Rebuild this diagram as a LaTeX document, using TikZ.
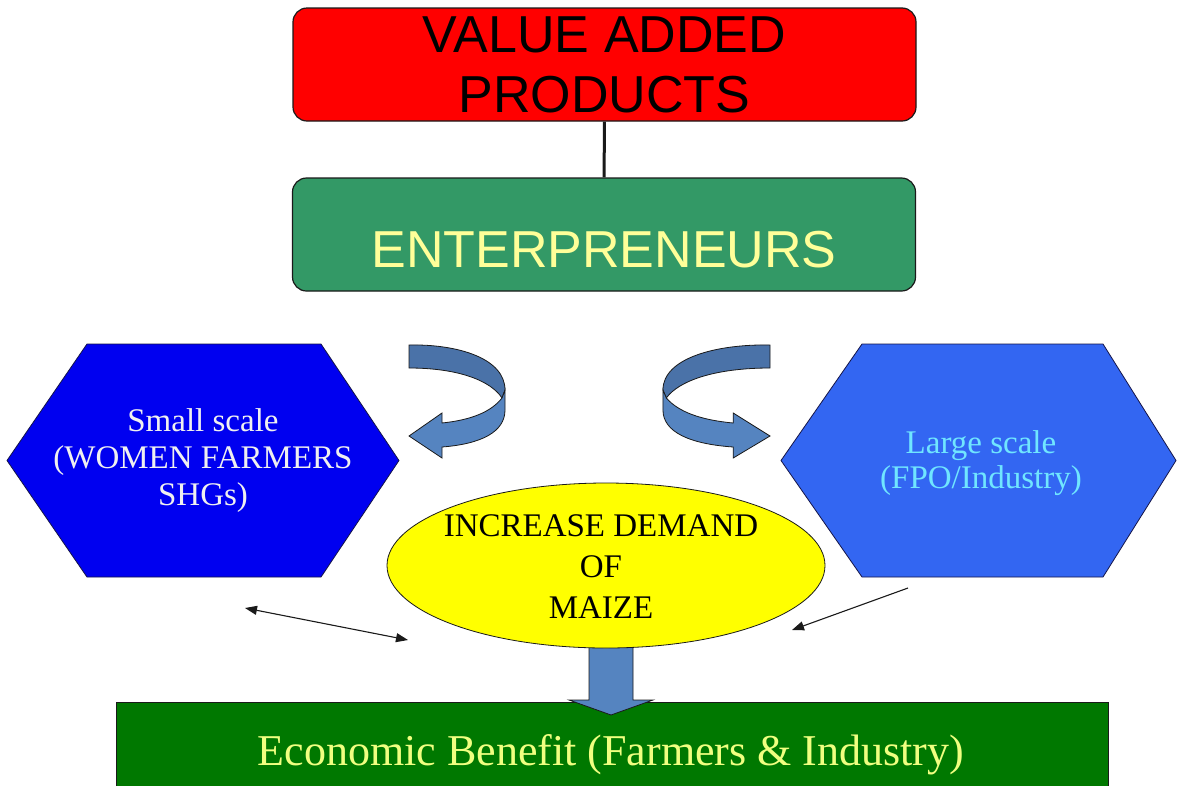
\documentclass[tikz,border=0pt]{standalone}
\usepackage{fontspec}
\setmainfont{Liberation Serif}
\newfontfamily\arialfont{Liberation Sans}
\usetikzlibrary{shapes.geometric,arrows.meta}

\definecolor{vapred}{HTML}{FF0000}
\definecolor{entgreen}{HTML}{339966}
\definecolor{paleyellow}{HTML}{FFFF99}
\definecolor{smallblue}{HTML}{0000F0}
\definecolor{largeblue}{HTML}{3366F2}
\definecolor{largetext}{HTML}{70E6FF}
\definecolor{demandyellow}{HTML}{FFFF00}
\definecolor{benefitgreen}{HTML}{007800}
\definecolor{benefittext}{HTML}{F0FF80}
\definecolor{bandback}{HTML}{4A72A8}
\definecolor{bandfront}{HTML}{5584C0}
\definecolor{edge}{HTML}{1A1A1A}

\begin{document}
\begin{tikzpicture}[x=1pt,y=-1pt,
  topbox/.style={draw=edge, line width=1.2pt, rounded corners=14pt,
    minimum width=623pt, minimum height=113pt, inner sep=0pt},
  hexagon/.style={draw=edge!80!blue, line width=0.8pt},
  serifbig/.style={align=center, inner sep=0pt},
  band/.style={draw=edge, line width=0.8pt},
  smallarrow/.style={draw=edge, line width=1.1pt,
    {Triangle[length=12pt,width=9pt]}-{Triangle[length=12pt,width=9pt]}},
  onearrow/.style={draw=edge, line width=1.1pt, -{Triangle[length=12pt,width=9pt]}}
]
\useasboundingbox (0,0) rectangle (1177,785);
\fill[white] (0,0) rectangle (1177,785);

% top two boxes and their link
\node[topbox, fill=vapred, text=black, align=center,
      font=\arialfont\fontsize{52}{60}\selectfont] (vap) at (604.5,64.5)
      {VALUE ADDED\\PRODUCTS};
\node[topbox, fill=entgreen] (ent) at (604,234.5) {};
\node[text=paleyellow, inner sep=0pt, font=\arialfont\fontsize{52}{60}\selectfont]
      (entlabel) at (604,250) {ENTERPRENEURS};
\draw[line width=3pt, edge] (vap) -- (ent);

% small scale hexagon
\filldraw[hexagon, fill=smallblue] (7,460.5) -- (87,344) -- (321,344) -- (399,460.5)
   -- (321,577) -- (87,577) -- cycle;
\node[serifbig, font=\fontsize{33}{37}\selectfont, text=white!94!black] (small) at (203,461)
   {Small scale\\(WOMEN FARMERS\\SHGs)};

% large scale hexagon
\filldraw[hexagon, fill=largeblue] (781,460.5) -- (862,344) -- (1103,344) -- (1176,460.5)
   -- (1103,577) -- (862,577) -- cycle;
\node[serifbig, font=\fontsize{33}{35}\selectfont, text=largetext] (large) at (981,463)
   {Large scale\\(FPO/Industry)};

% curved ribbon arrows
\begin{scope}[shift={(409,0)}]
  \filldraw[band, fill=bandback] (0,345) .. controls (48,344) and (96,358) .. (96,390)
     -- (93,398) .. controls (82,381) and (50,368) .. (0,368) -- cycle;
  \filldraw[band, fill=bandfront] (93,398) .. controls (82,412) and (62,420) .. (33,423)
     -- (33,413) -- (0,436) -- (33,458) -- (33,447)
     .. controls (72,444) and (96,432) .. (96,410) -- (96,390) -- cycle;
\end{scope}
\begin{scope}[shift={(770,0)}, xscale=-1.115]
  \filldraw[band, fill=bandback] (0,345) .. controls (48,344) and (96,358) .. (96,390)
     -- (93,398) .. controls (82,381) and (50,368) .. (0,368) -- cycle;
  \filldraw[band, fill=bandfront] (93,398) .. controls (82,412) and (62,420) .. (33,423)
     -- (33,413) -- (0,436) -- (33,458) -- (33,447)
     .. controls (72,444) and (96,432) .. (96,410) -- (96,390) -- cycle;
\end{scope}

% benefit box
\node[draw=edge, line width=1pt, fill=benefitgreen, minimum width=992pt,
      minimum height=100pt, inner sep=0pt] (benefit) at (612,752) {};
\node[text=benefittext, inner sep=0pt, font=\fontsize{44}{50}\selectfont,
      anchor=base] (benefitlabel) at (611,765)
      {Economic Benefit (Farmers \& Industry)};

% block arrow from the demand ellipse down to the benefit box
\filldraw[draw=edge, line width=0.8pt, fill=bandfront]
   (589,640) -- (633,640) -- (633,700) -- (653,700) -- (611,715)
   -- (569,700) -- (589,700) -- cycle;

% demand ellipse
\node[ellipse, draw=edge, line width=0.8pt, fill=demandyellow,
      minimum width=438pt, minimum height=165pt, inner sep=0pt] (demand) at (606,565.5) {};
\node[inner sep=0pt, align=center, font=\fontsize{33}{41}\selectfont] (demandlabel)
      at (601,567) {INCREASE DEMAND\\OF\\MAIZE};

% thin pointers
\coordinate (la) at (245,608);
\coordinate (lb) at (408,640);
\draw[smallarrow] (la) -- (lb);
\coordinate (ra) at (908,588);
\coordinate (rb) at (792,630);
\draw[onearrow] (ra) -- (rb);
\end{tikzpicture}
\end{document}
